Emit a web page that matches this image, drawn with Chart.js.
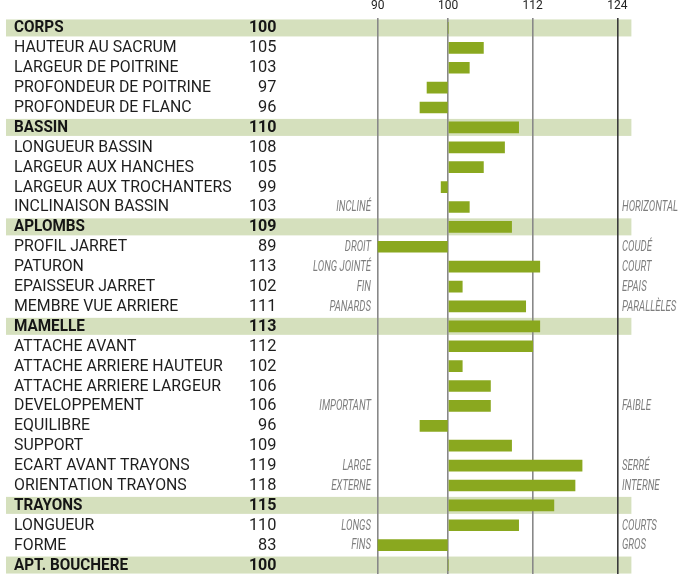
<!DOCTYPE html>
<html>
<head>
<meta charset="utf-8">
<script src="https://cdn.jsdelivr.net/npm/chart.js@4.4.1/dist/chart.umd.min.js"></script>
<style>
html,body{margin:0;padding:0;background:#fff;overflow:hidden;}
#wrap{width:681px;height:574px;position:relative;overflow:hidden;}
</style>
</head>
<body>
<div id="wrap"><canvas id="c" width="681" height="575"></canvas></div>
<script>
const labels = ["CORPS","HAUTEUR AU SACRUM","LARGEUR DE POITRINE","PROFONDEUR DE POITRINE","PROFONDEUR DE FLANC",
  "BASSIN","LONGUEUR BASSIN","LARGEUR AUX HANCHES","LARGEUR AUX TROCHANTERS","INCLINAISON BASSIN",
  "APLOMBS","PROFIL JARRET","PATURON","EPAISSEUR JARRET","MEMBRE VUE ARRIERE",
  "MAMELLE","ATTACHE AVANT","ATTACHE ARRIERE HAUTEUR","ATTACHE ARRIERE LARGEUR","DEVELOPPEMENT","EQUILIBRE","SUPPORT","ECART AVANT TRAYONS","ORIENTATION TRAYONS",
  "TRAYONS","LONGUEUR","FORME","APT. BOUCHERE"];
const values = [100,105,103,97,96, 110,108,105,99,103, 109,89,113,102,111, 113,112,102,106,106,96,109,119,118, 115,110,83, 100];
const isHeader = [1,0,0,0,0, 1,0,0,0,0, 1,0,0,0,0, 1,0,0,0,0,0,0,0,0, 1,0,0, 1];
const leftNotes = ["","","","","", "","","","","INCLINÉ", "","DROIT","LONG JOINTÉ","FIN","PANARDS", "","","","","IMPORTANT","","","LARGE","EXTERNE", "","LONGS","FINS",""];
const rightNotes = ["","","","","", "","","","","HORIZONTAL", "","COUDÉ","COURT","EPAIS","PARALLÈLES", "","","","","FAIBLE","","","SERRÉ","INTERNE", "","COURTS","GROS",""];
const tickValues = [90,100,112,124];

const BAND = '#d5e0bd', BAR = '#8aa81f';

function drawScaled(ctx, text, x, y, align, sx){
  ctx.save();
  ctx.translate(x, y);
  ctx.scale(sx, 1);
  ctx.textAlign = align;
  ctx.fillText(text, 0, 0);
  ctx.restore();
}

const bandPlugin = {
  id: 'bands',
  beforeDraw(chart){
    const ctx = chart.ctx, y = chart.scales.y, x = chart.scales.x;
    ctx.save();
    ctx.fillStyle = '#fff';
    ctx.fillRect(0,0,chart.width,chart.height);
    ctx.fillStyle = BAND;
    const right = x.getPixelForValue(126);
    labels.forEach((l,i)=>{
      if(!isHeader[i]) return;
      const cy = y.getPixelForValue(i);
      ctx.fillRect(6, cy-8.5, right-6, 17);
    });
    ctx.restore();
  },
  afterDraw(chart){
    const ctx = chart.ctx, y = chart.scales.y;
    ctx.save();
    ctx.textBaseline = 'middle';
    ctx.font = '16px Roboto';
    const sxR = 197 / ctx.measureText('PROFONDEUR DE POITRINE').width;
    const sxV = 27.6 / ctx.measureText('105').width;
    ctx.font = 'bold 16px Roboto';
    const sxB = 114 / ctx.measureText('APT. BOUCHERE').width;
    const sxBV = 27.6 / ctx.measureText('100').width;
    labels.forEach((l,i)=>{
      const cy = y.getPixelForValue(i) + 0.5;
      if(isHeader[i]){
        ctx.font = 'bold 16px Roboto';
        ctx.fillStyle = '#151515';
        drawScaled(ctx, l, 14, cy, 'left', sxB);
        drawScaled(ctx, String(values[i]), 276.5, cy, 'right', sxBV);
      } else {
        ctx.font = '16px Roboto';
        ctx.fillStyle = '#1e1e1e';
        drawScaled(ctx, l, 14, cy, 'left', sxR);
        drawScaled(ctx, String(values[i]), 276.5, cy, 'right', sxV);
      }
    });
    ctx.font = 'italic 15px Roboto';
    const sxI = 56 / ctx.measureText('HORIZONTAL').width;
    ctx.fillStyle = '#7e7e7e';
    labels.forEach((l,i)=>{
      const cy = y.getPixelForValue(i) + 0.5;
      if(leftNotes[i]) drawScaled(ctx, leftNotes[i], 371, cy, 'right', sxI);
      if(rightNotes[i]) drawScaled(ctx, rightNotes[i], 622, cy, 'left', sxI);
    });
    ctx.restore();
  }
};

new Chart(document.getElementById('c'), {
  type: 'bar',
  data: {
    labels: labels,
    datasets: [{
      data: values,
      base: 100,
      backgroundColor: BAR,
      borderWidth: 0,
      barThickness: 11,
      borderSkipped: false
    }]
  },
  options: {
    indexAxis: 'y',
    responsive: false,
    animation: false,
    devicePixelRatio: 1,
    layout: { padding: { left: 377.7, right: 49.6, top: 0, bottom: 0 } },
    plugins: { legend: { display: false }, tooltip: { enabled: false } },
    scales: {
      y: { display: false, offset: true, grid: { display: false } },
      x: {
        position: 'top',
        min: 90, max: 126,
        afterBuildTicks(scale){ scale.ticks = tickValues.map(v=>({value:v})); },
        afterFit(scale){ scale.height = 18; },
        border: { display: false },
        grid: {
          drawTicks: false,
          lineWidth: 1.6,
          color: (c)=> (c.tick && c.tick.value===124) ? '#3a3a3a' : '#888888'
        },
        ticks: {
          padding: 5,
          color: '#222',
          font: { family: 'Roboto', size: 12 },
          callback: (v)=> String(v)
        }
      }
    }
  },
  plugins: [bandPlugin]
});
</script>
</body>
</html>
